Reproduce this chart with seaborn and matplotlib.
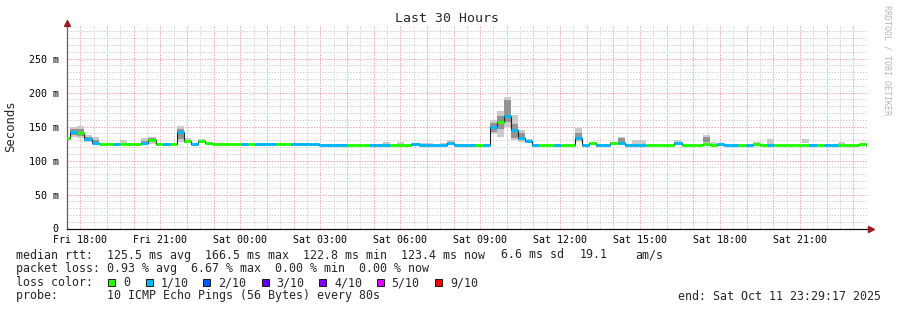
import numpy as np
import matplotlib
matplotlib.use("Agg")
import matplotlib.pyplot as plt
import matplotlib.transforms as mtransforms
from matplotlib.patches import Rectangle
import seaborn as sns

# ---------------- data ----------------
# 16-minute consolidated steps, hours relative to Fri 18:00
step_start_h = -0.645
step_h = 16 / 60

median_ms = [133, 142, 140, 132, 126, 124, 124, 124, 124, 124,
             124, 126, 130, 124.5, 124.5, 124, 141.6, 129, 124.5, 128.5,
             126.4, 124, 124, 124, 124, 124, 125, 124, 124, 124,
             124, 124, 124, 124, 124, 124, 123, 123, 123, 123,
             123, 123, 123, 123, 123, 123.5, 123, 123, 123, 124,
             123, 123, 123, 123, 126, 123, 123, 123, 123, 123,
             150, 156, 166, 145, 133, 129, 123, 123, 123, 123,
             123, 123, 133, 123, 125.5, 123, 123, 126, 126, 123,
             123, 123, 123, 123, 123, 123, 125.5, 123, 123, 123,
             124, 123, 124, 123, 123, 123, 123, 125, 123, 123,
             123, 123, 123, 123, 123, 123, 123, 123, 123, 123,
             123, 123, 125, 123]

loss_class = [0, 1, 0, 1, 1, 0, 0, 1, 0, 0,
              0, 1, 0, 0, 1, 0, 1, 0, 1, 0,
              0, 0, 0, 0, 0, 1, 0, 1, 1, 1,
              0, 0, 1, 1, 1, 1, 1, 1, 1, 1,
              0, 0, 0, 1, 1, 1, 0, 0, 0, 1,
              1, 1, 1, 1, 1, 1, 1, 1, 0, 1,
              1, 0, 1, 1, 1, 1, 1, 0, 0, 1,
              0, 0, 1, 1, 0, 1, 1, 0, 1, 1,
              1, 1, 0, 0, 0, 0, 1, 0, 0, 0,
              0, 0, 1, 1, 1, 0, 1, 0, 0, 1,
              0, 0, 0, 0, 0, 1, 0, 1, 1, 0,
              0, 0, 0, 0]

# smoke (spread of the individual pings) for steps that show it
smoke_step = [1, 2, 3, 4, 8, 11, 12, 16, 17, 19, 30, 31, 36, 37, 45, 47, 50, 51,
              53, 54, 57, 58, 60, 61, 62, 63, 64, 65, 72, 77, 78, 80, 81, 86,
              90, 91, 97, 99, 104, 109, 113]
smoke_outer_lo = [135, 133, 127, 125, 124, 124, 125, 128, 126, 127, 124, 124, 123, 123,
                  124.5, 124, 124, 124, 124, 124, 123, 123, 139, 135, 150, 130, 128,
                  127, 128, 124, 124, 124, 124, 124, 124, 124, 124, 124, 126, 124, 124]
smoke_outer_hi = [150, 151, 137, 135, 130, 133, 135, 151, 133, 131, 126, 126, 125, 125,
                  128, 127, 126, 126, 126, 130, 125, 125, 160, 173, 194, 167, 145,
                  132, 147.5, 128, 135, 130, 130, 130, 137, 128, 127, 132, 131, 127, 126]
smoke_inner_lo = [138, 136, 129, 125, np.nan, 125, 127, 131, np.nan, np.nan, np.nan,
                  np.nan, np.nan, np.nan, np.nan, np.nan, np.nan, np.nan, np.nan, np.nan,
                  np.nan, np.nan, 142, 147, 157, 133, 130, np.nan, 130, np.nan, 126,
                  np.nan, np.nan, np.nan, 128, np.nan, np.nan, np.nan, np.nan, np.nan, np.nan]
smoke_inner_hi = [146, 147, 135, 130, np.nan, 129, 133, 147, np.nan, np.nan, np.nan,
                  np.nan, np.nan, np.nan, np.nan, np.nan, np.nan, np.nan, np.nan, np.nan,
                  np.nan, np.nan, 155, 165, 189, 154, 140, np.nan, 140, np.nan, 133,
                  np.nan, np.nan, np.nan, 134, np.nan, np.nan, np.nan, np.nan, np.nan, np.nan]

loss_labels = ["0", "1/10", "2/10", "3/10", "4/10", "5/10", "9/10"]
loss_colors = ["#26ff00", "#00b8ff", "#0059ff", "#5e00ff", "#7e00ff", "#dd00ff", "#ff0000"]

x_tick_hours = list(range(0, 30))
x_tick_labels = ["Fri 18:00", "Fri 21:00", "Sat 00:00", "Sat 03:00", "Sat 06:00",
                 "Sat 09:00", "Sat 12:00", "Sat 15:00", "Sat 18:00", "Sat 21:00"]
y_ticks = [0, 50, 100, 150, 200, 250]
y_tick_labels = ["0", "50 m", "100 m", "150 m", "200 m", "250 m"]

# ---------------- figure ----------------
sns.set_theme(style="white")
plt.rcParams["font.family"] = ["DejaVu Sans Mono", "DejaVu Sans"]

W, H = 897, 310
fig = plt.figure(figsize=(W / 100, H / 100), dpi=100)
fig.patch.set_facecolor("white")


def fx(px):
    return px / W


def fy(py):
    return 1 - py / H


ax = fig.add_axes([fx(67), fy(228.5), 800 / W, (228.5 - 26) / H])
ax.set_facecolor("white")
ax.set_xlim(-0.4875, 29.5125)
ax.set_ylim(0, 298)

N = len(median_ms)
t_edges = step_start_h + step_h * np.arange(N + 1)
med = np.array(median_ms, dtype=float)

# smoke
s_idx = np.array(smoke_step)
ax.bar(t_edges[s_idx], np.array(smoke_outer_hi) - np.array(smoke_outer_lo),
       bottom=smoke_outer_lo, width=step_h, align="edge", color="#cbcbcb",
       linewidth=0, zorder=2)
inner_lo = np.array(smoke_inner_lo)
inner_hi = np.array(smoke_inner_hi)
ok = ~np.isnan(inner_lo)
ax.bar(t_edges[s_idx][ok], (inner_hi - inner_lo)[ok], bottom=inner_lo[ok],
       width=step_h, align="edge", color="#939393", linewidth=0, zorder=3)

# black median step line
sns.lineplot(x=t_edges, y=np.append(med, med[-1]), drawstyle="steps-post",
             color="#202020", linewidth=0.8, ax=ax, zorder=4, legend=False)

# loss-coloured median band
cols = [loss_colors[c] for c in loss_class]
hl = ax.hlines(med, t_edges[:-1], t_edges[1:], colors=cols, linewidth=2.2, zorder=5)
hl.set_capstyle("butt")

# grid
ax.set_xticks(x_tick_hours)
ax.set_xticklabels([x_tick_labels[i // 3] if i % 3 == 0 else "" for i in x_tick_hours])
ax.set_xticks(np.arange(-0.5, 30, 0.5), minor=True)
ax.set_yticks(y_ticks)
ax.set_yticklabels(y_tick_labels)
ax.set_yticks(np.arange(0, 300, 10), minor=True)
ax.set_axisbelow(True)
ax.grid(which="minor", color="#d2d2d2", linestyle=(0, (1.4, 1.4)), linewidth=0.72)
ax.grid(which="major", color="#f4a4a4", linestyle=(0, (1.4, 1.4)), linewidth=0.72)

ax.tick_params(axis="both", which="major", length=2, width=0.7, color="#909090",
               labelsize=7.2, labelcolor="black", direction="out")
ax.tick_params(axis="x", which="major", pad=2.5)
ax.tick_params(axis="y", which="major", pad=4)
ax.tick_params(axis="both", which="minor", length=0)

for s in ["top", "right"]:
    ax.spines[s].set_visible(False)
ax.spines["left"].set_color("#606060")
ax.spines["left"].set_linewidth(0.9)
ax.spines["bottom"].set_color("#101010")
ax.spines["bottom"].set_linewidth(0.9)

# arrows at axis ends
up = mtransforms.offset_copy(ax.transAxes, fig=fig, x=0, y=3.5, units="dots")
ax.plot([0], [1], marker="^", markersize=5, color="#9a1c1c", transform=up,
        clip_on=False, zorder=6)
rt = mtransforms.offset_copy(ax.transAxes, fig=fig, x=4, y=0, units="dots")
ax.plot([1], [0], marker=">", markersize=5, color="#9a1c1c", transform=rt,
        clip_on=False, zorder=6)

# titles
fig.text(fx(447), fy(19), "Last 30 Hours", ha="center", va="center", fontsize=9.5)
fig.text(fx(11), fy(126), "Seconds", ha="center", va="center", rotation=90, fontsize=8.8)
fig.text(fx(887), fy(60), "RRDTOOL / TOBI OETIKER", ha="center", va="center",
         rotation=270, fontsize=6, color="#b4b4b4")

# legend lines
LS = 8.4
fig.text(fx(16), fy(255), "median rtt:  125.5 ms avg  166.5 ms max  122.8 ms min  123.4 ms now",
         ha="left", va="center", fontsize=LS)
fig.text(fx(501), fy(255), "6.6 ms sd", ha="left", va="center", fontsize=LS)
fig.text(fx(580), fy(255), "19.1", ha="left", va="center", fontsize=LS)
fig.text(fx(635), fy(255), "am/s", ha="left", va="center", fontsize=LS)
fig.text(fx(16), fy(268.5), "packet loss: 0.93 % avg  6.67 % max  0.00 % min  0.00 % now",
         ha="left", va="center", fontsize=LS)
fig.text(fx(16), fy(282.5), "loss color:", ha="left", va="center", fontsize=LS)
box_x = [108, 145.7, 203.3, 261.7, 319, 376.7, 435]
for bx, lab, c in zip(box_x, loss_labels, loss_colors):
    fig.patches.append(Rectangle((fx(bx), fy(286.3)), 7 / W, 7 / H, transform=fig.transFigure,
                                 facecolor=c, edgecolor="black", linewidth=0.6))
    fig.text(fx(bx + 15), fy(282.5), lab, ha="left", va="center", fontsize=LS)
fig.text(fx(16), fy(296), "probe:       10 ICMP Echo Pings (56 Bytes) every 80s",
         ha="left", va="center", fontsize=LS)
fig.text(fx(678.3), fy(296), "end: Sat Oct 11 23:29:17 2025", ha="left", va="center",
         fontsize=LS)

fig.savefig("out.png", dpi=100, facecolor="white")
